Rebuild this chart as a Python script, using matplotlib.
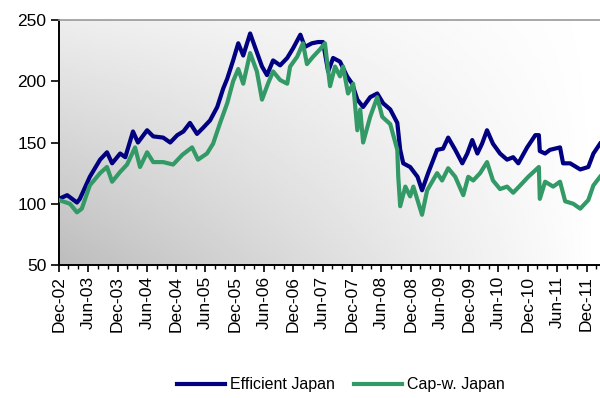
import numpy as np
import pandas as pd
import matplotlib
matplotlib.use("Agg")
import matplotlib.pyplot as plt
import matplotlib.dates as mdates

plt.rcParams['font.family'] = ['Liberation Sans', 'DejaVu Sans']

# Efficient Japan
eff_dates = ["2002-12-31", "2003-02-20", "2003-04-22", "2003-05-10", "2003-07-11",
             "2003-09-13", "2003-10-26", "2003-11-27", "2004-01-16", "2004-02-17",
             "2004-04-05", "2004-05-06", "2004-07-02", "2004-08-09", "2004-10-10",
             "2004-11-23", "2005-01-06", "2005-02-13", "2005-03-26", "2005-05-09",
             "2005-06-16", "2005-07-29", "2005-09-12", "2005-10-19", "2005-11-13",
             "2005-12-20", "2006-01-21", "2006-02-21", "2006-04-05", "2006-05-05",
             "2006-06-18", "2006-07-19", "2006-08-26", "2006-10-09", "2006-11-22",
             "2006-12-29", "2007-02-12", "2007-03-12", "2007-04-25", "2007-06-02",
             "2007-07-03", "2007-08-04", "2007-09-04", "2007-10-17", "2007-11-30",
             "2008-01-01", "2008-02-02", "2008-03-09", "2008-04-22", "2008-06-05",
             "2008-07-12", "2008-08-25", "2008-10-08", "2008-10-26", "2008-11-14",
             "2008-12-27", "2009-02-11", "2009-03-11", "2009-04-18", "2009-06-13",
             "2009-07-20", "2009-08-21", "2009-10-04", "2009-11-17", "2009-12-18",
             "2010-01-18", "2010-02-19", "2010-03-20", "2010-04-20", "2010-05-27",
             "2010-07-10", "2010-08-23", "2010-09-30", "2010-11-01", "2010-12-26",
             "2011-02-15", "2011-03-09", "2011-03-15", "2011-04-17", "2011-05-17",
             "2011-07-19", "2011-08-07", "2011-09-20", "2011-11-22", "2012-01-11",
             "2012-02-12", "2012-03-24"]
efficient = [104, 107, 101, 104, 122, 136, 142, 133, 141, 138,
             159, 150, 160, 155, 154, 150, 156, 159, 166, 157,
             162, 168, 179, 194, 202, 217, 231, 221, 239, 228,
             212, 205, 217, 213, 219, 227, 238, 228, 231, 232,
             232, 208, 219, 216, 204, 198, 185, 179, 187, 190,
             182, 177, 166, 144, 133, 130, 122, 111, 125, 144,
             145, 154, 144, 133, 141, 152, 141, 149, 160, 149,
             141, 136, 138, 133, 146, 156, 156, 143, 141, 144,
             146, 133, 133, 128, 130, 141, 149]

# Cap-weighted Japan
cap_dates = ["2002-12-31", "2003-03-09", "2003-04-22", "2003-05-22", "2003-07-11",
             "2003-09-13", "2003-10-26", "2003-11-27", "2004-01-16", "2004-02-28",
             "2004-04-18", "2004-05-19", "2004-07-02", "2004-08-09", "2004-10-10",
             "2004-12-11", "2005-02-07", "2005-04-08", "2005-05-15", "2005-07-10",
             "2005-08-17", "2005-09-30", "2005-11-13", "2005-12-20", "2006-01-21",
             "2006-02-21", "2006-04-05", "2006-05-17", "2006-06-18", "2006-07-25",
             "2006-08-26", "2006-10-09", "2006-11-22", "2006-12-10", "2007-01-23",
             "2007-02-28", "2007-03-25", "2007-05-02", "2007-06-14", "2007-07-15",
             "2007-08-16", "2007-09-16", "2007-10-17", "2007-11-05", "2007-12-06",
             "2008-01-07", "2008-02-02", "2008-02-20", "2008-03-09", "2008-04-22",
             "2008-06-05", "2008-07-06", "2008-08-25", "2008-10-08", "2008-10-14",
             "2008-10-26", "2008-11-27", "2008-12-27", "2009-01-16", "2009-03-11",
             "2009-04-12", "2009-06-13", "2009-07-14", "2009-08-21", "2009-10-04",
             "2009-11-23", "2009-12-24", "2010-01-24", "2010-03-08", "2010-04-20",
             "2010-05-27", "2010-07-10", "2010-08-23", "2010-09-30", "2010-11-13",
             "2011-01-02", "2011-03-09", "2011-03-15", "2011-04-17", "2011-06-06",
             "2011-07-19", "2011-08-20", "2011-10-09", "2011-11-22", "2012-01-11",
             "2012-02-12", "2012-03-24"]
capw = [103, 100, 93, 96, 115, 125, 130, 118, 126, 132,
        146, 130, 142, 134, 134, 132, 140, 146, 136, 141,
        149, 166, 182, 200, 210, 198, 223, 208, 185, 198,
        208, 201, 198, 212, 220, 231, 214, 220, 226, 231,
        196, 212, 204, 212, 190, 198, 160, 177, 150, 171,
        187, 171, 165, 144, 122, 98, 114, 106, 114, 91,
        111, 125, 119, 129, 122, 107, 122, 119, 125, 134,
        119, 112, 114, 109, 115, 122, 130, 104, 118, 114,
        118, 102, 100, 96, 103, 115, 122]

eff_x = pd.to_datetime(eff_dates)
cap_x = pd.to_datetime(cap_dates)

fig = plt.figure(figsize=(6, 3.98), dpi=100)
ax = fig.add_axes([59 / 600, 1 - 265 / 398, 1 - 59 / 600, 245 / 398])

# grey-to-white background
xx, yy = np.meshgrid(np.linspace(0, 1, 200), np.linspace(0, 1, 200))
dark = (1 - xx) * (0.07 + 0.19 * (1 - yy))
bg = np.clip(1 - dark, 0, 1)
ax.imshow(bg, cmap='gray', vmin=0, vmax=1, extent=[0, 1, 0, 1], origin='lower',
          transform=ax.transAxes, aspect='auto', zorder=0, interpolation='bilinear')

ax.plot(eff_x, efficient, color='#000080', lw=3.0, label='Efficient Japan', zorder=2)
ax.plot(cap_x, capw, color='#339966', lw=3.0, label='Cap-w. Japan', zorder=3)

ax.set_xlim(pd.Timestamp("2002-12-31"), pd.Timestamp("2012-03-24"))
ax.set_ylim(50, 250)
ax.set_yticks([50, 100, 150, 200, 250])

ax.xaxis.set_major_locator(mdates.MonthLocator(bymonth=[6, 12], bymonthday=-1))
ax.xaxis.set_minor_locator(mdates.MonthLocator(bymonth=[2, 4, 8, 10], bymonthday=-1))
ax.xaxis.set_major_formatter(mdates.DateFormatter('%b-%y'))
plt.setp(ax.get_xticklabels(), rotation=90)

ax.tick_params(axis='both', which='major', labelsize=12.5, direction='out',
               width=1.2, color='black')
ax.tick_params(axis='y', length=6, pad=3)
ax.tick_params(axis='x', which='major', length=5, pad=3)
ax.tick_params(axis='x', which='minor', length=3, width=1.0)

for s in ['left', 'bottom']:
    ax.spines[s].set_linewidth(1.4)
    ax.spines[s].set_color('black')
ax.spines['top'].set_color('#999999')
ax.spines['top'].set_linewidth(1.2)
ax.spines['right'].set_visible(False)

fig.legend(loc='center', bbox_to_anchor=(0.568, 1 - 385 / 398), ncol=2, frameon=False,
           fontsize=11.5, handlelength=3.0, columnspacing=1.2, handletextpad=0.3)

fig.savefig("out.png", dpi=100)
